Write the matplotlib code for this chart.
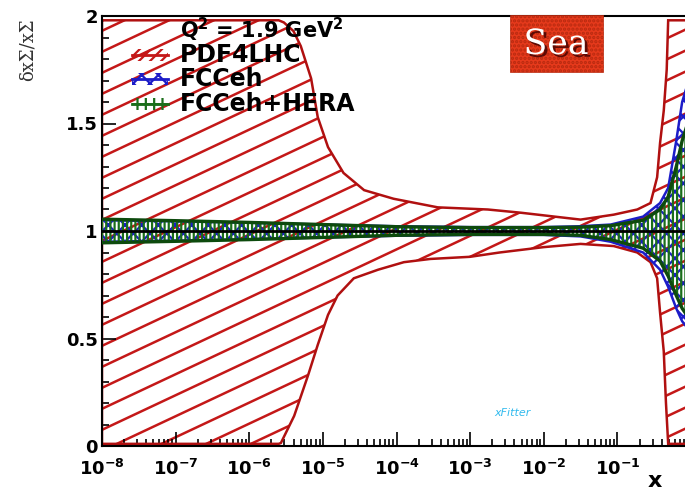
import numpy as np
import matplotlib
matplotlib.use("Agg")
import matplotlib.pyplot as plt
from matplotlib.patches import Rectangle
from matplotlib.ticker import FixedLocator, FixedFormatter, MultipleLocator, LogLocator, NullFormatter
import matplotlib.patheffects as pe

plt.rcParams["font.family"] = ["DejaVu Sans"]
plt.rcParams["mathtext.fontset"] = "dejavusans"
plt.rcParams["hatch.linewidth"] = 1.6

# PDF4LHC band (log10 x, relative uncertainty)
pdf_up_logx = [-8.0, -5.6, -5.53, -5.40, -5.30, -5.16, -5.07, -4.93, -4.72, -4.44, -4.04,
               -3.44, -2.76, -2.31, -1.50, -1.05, -0.73, -0.55, -0.46, -0.42, -0.37, -0.33, -0.31, 0.0]
pdf_up = [1.98, 1.98, 1.97, 1.93, 1.86, 1.71, 1.53, 1.39, 1.27, 1.19, 1.15,
          1.11, 1.10, 1.085, 1.053, 1.076, 1.10, 1.13, 1.25, 1.41, 1.56, 1.75, 1.98, 1.98]
pdf_lo_logx = [-8.0, -5.6, -5.57, -5.39, -5.20, -5.07, -4.93, -4.80, -4.58, -4.25, -3.90,
               -3.54, -3.00, -2.60, -2.00, -1.50, -1.05, -0.73, -0.55, -0.46, -0.42, -0.37, -0.34, -0.31, 0.0]
pdf_lo = [0.01, 0.01, 0.014, 0.14, 0.33, 0.47, 0.61, 0.70, 0.78, 0.82, 0.855,
          0.87, 0.88, 0.90, 0.925, 0.94, 0.93, 0.90, 0.855, 0.78, 0.62, 0.44, 0.20, 0.01, 0.01]

# FCCeh band
fcc_logx = [-8, -7, -6, -5, -4, -3, -2, -1.5, -1.09, -0.65, -0.42, -0.31, -0.2, -0.12, -0.05, 0]
fcc_up = [1.05, 1.045, 1.038, 1.03, 1.022, 1.018, 1.018, 1.022, 1.03, 1.067, 1.13, 1.20, 1.42, 1.60, 1.68, 1.72]
fcc_lo = [0.95, 0.955, 0.962, 0.97, 0.978, 0.982, 0.982, 0.975, 0.95, 0.90, 0.82, 0.74, 0.64, 0.58, 0.55, 0.53]

# FCCeh+HERA band
fh_logx = [-8, -7, -6, -5, -4, -3, -2, -1.5, -1.09, -0.65, -0.42, -0.31, -0.2, -0.12, 0]
fh_up = [1.055, 1.048, 1.04, 1.03, 1.02, 1.016, 1.016, 1.018, 1.025, 1.05, 1.10, 1.16, 1.30, 1.42, 1.55]
fh_lo = [0.945, 0.952, 0.96, 0.97, 0.98, 0.984, 0.984, 0.98, 0.96, 0.92, 0.86, 0.79, 0.70, 0.64, 0.58]

xtick_vals = [1e-8, 1e-7, 1e-6, 1e-5, 1e-4, 1e-3, 1e-2, 1e-1, 1]
xtick_labels = [r"$\mathbf{10^{-8}}$", r"$\mathbf{10^{-7}}$", r"$\mathbf{10^{-6}}$", r"$\mathbf{10^{-5}}$",
                r"$\mathbf{10^{-4}}$", r"$\mathbf{10^{-3}}$", r"$\mathbf{10^{-2}}$", r"$\mathbf{10^{-1}}$",
                r"$\mathbf{1}$"]
ytick_vals = [0, 0.5, 1, 1.5, 2]
ytick_labels = ["0", "0.5", "1", "1.5", "2"]

legend_labels = ["PDF4LHC", "FCCeh", "FCCeh+HERA"]
red, blue, green = "#c41818", "#1c1cc8", "#1a6e1a"

fig = plt.figure(figsize=(6.85, 4.91), dpi=100)
# the x axis runs on past the right edge of the picture (cropped like the original)
ax = fig.add_axes([102 / 685, 45 / 491, 589 / 685, 430 / 491])
ax.set_xscale("log")
ax.set_xlim(1e-8, 1)
ax.set_ylim(0, 2)

# red band: slanted hatch lines, masked outside the band, then the outline
ux = 10 ** np.array(pdf_up_logx)
lx = 10 ** np.array(pdf_lo_logx)
slope = 0.47 * 589 / 430
step = 21 / 430
for c in np.arange(-slope - 0.1, 1.1, step):
    ax.plot([0, 1], [c, c + slope], transform=ax.transAxes, color=red, lw=1.8, zorder=1)
ax.fill_between(ux, pdf_up, 2.2, facecolor="white", lw=0, zorder=1.5)
ax.fill_between(lx, -0.2, pdf_lo, facecolor="white", lw=0, zorder=1.5)
px = np.concatenate([ux, lx[::-1]])
py = np.concatenate([pdf_up, pdf_lo[::-1]])
ax.fill(px, py, facecolor="none", edgecolor="#b01010", lw=1.8, zorder=2)

# FCCeh band
fx = 10 ** np.array(fcc_logx)
ax.fill_between(fx, fcc_lo, fcc_up, facecolor="none", edgecolor=blue, hatch="xx", lw=0, zorder=3)
ax.plot(fx, fcc_up, color=blue, lw=1.8, zorder=4)
ax.plot(fx, fcc_lo, color=blue, lw=1.8, zorder=4)

# FCCeh+HERA band
hx = 10 ** np.array(fh_logx)
ax.fill_between(hx, fh_lo, fh_up, facecolor="none", edgecolor=green, hatch="||||", lw=0, zorder=5)
ax.plot(hx, fh_up, color="#0d4a0d", lw=2.4, zorder=6)
ax.plot(hx, fh_lo, color="#0d4a0d", lw=2.4, zorder=6)

ax.axhline(1, color="black", lw=2, zorder=7)

# axes styling (ROOT-like)
ax.xaxis.set_major_locator(FixedLocator(xtick_vals))
ax.xaxis.set_major_formatter(FixedFormatter(xtick_labels))
ax.xaxis.set_minor_locator(LogLocator(base=10, subs=np.arange(2, 10), numticks=20))
ax.xaxis.set_minor_formatter(NullFormatter())
ax.yaxis.set_major_locator(FixedLocator(ytick_vals))
ax.yaxis.set_major_formatter(FixedFormatter(ytick_labels))
ax.yaxis.set_minor_locator(MultipleLocator(0.1))
ax.tick_params(which="both", direction="in", top=False, right=False, width=1.2)
ax.tick_params(which="major", length=10, labelsize=13)
ax.tick_params(axis="x", which="major", pad=9)
ax.tick_params(axis="y", which="major", pad=3)
ax.tick_params(which="minor", length=5)
for lab in ax.get_yticklabels():
    lab.set_fontweight("bold")
for s in ax.spines.values():
    s.set_linewidth(1.5)

fig.text(0.041, 0.898, "δxΣ/xΣ", rotation=90, family="DejaVu Serif", fontsize=13,
         color="#333333", ha="center", va="center")
fig.text(655 / 685, 0.02, "x", fontsize=16, weight="bold", ha="center", va="center")

# legend, drawn by hand to keep ROOT's tight row spacing
fig.text(180 / 685, 1 - 30 / 491, r"$\mathbf{Q^2}$ = 1.9 GeV$\mathbf{^2}$", fontsize=15, weight="bold",
         va="center", ha="left")
hatches = ["///", "xx", "++"]
colors = [red, blue, green]
for i, (lab, h, col) in enumerate(zip(legend_labels, hatches, colors)):
    yc = 1 - (55 + 24.3 * i) / 491
    fig.text(180 / 685, yc, lab, fontsize=17, weight="bold", va="center", ha="left")
    fig.add_artist(Rectangle((132 / 685, yc - 6 / 491), 36 / 685, 12 / 491, transform=fig.transFigure,
                             facecolor="none", edgecolor=col, hatch=h, lw=0))
    fig.add_artist(plt.Line2D([132 / 685, 168 / 685], [yc, yc], transform=fig.transFigure, color=col, lw=2))

# "Sea" tag
fig.add_artist(Rectangle((510 / 685, 1 - 72 / 491), 93 / 685, 57 / 491, transform=fig.transFigure,
                         facecolor="#e63a1c", edgecolor="#b82a10", hatch="....", lw=0.5, zorder=8))
fig.text(556 / 685, 1 - 44 / 491, "Sea", family="DejaVu Serif", fontsize=25, color="white",
         ha="center", va="center", zorder=9,
         path_effects=[pe.withSimplePatchShadow(offset=(2, -2), shadow_rgbFace="#400000", alpha=0.8)])

fig.text(512 / 685, 1 - 413 / 491, "xFitter", fontsize=8, style="italic", color="#33bbee",
         ha="center", va="center")

fig.savefig("out.png", dpi=100)
